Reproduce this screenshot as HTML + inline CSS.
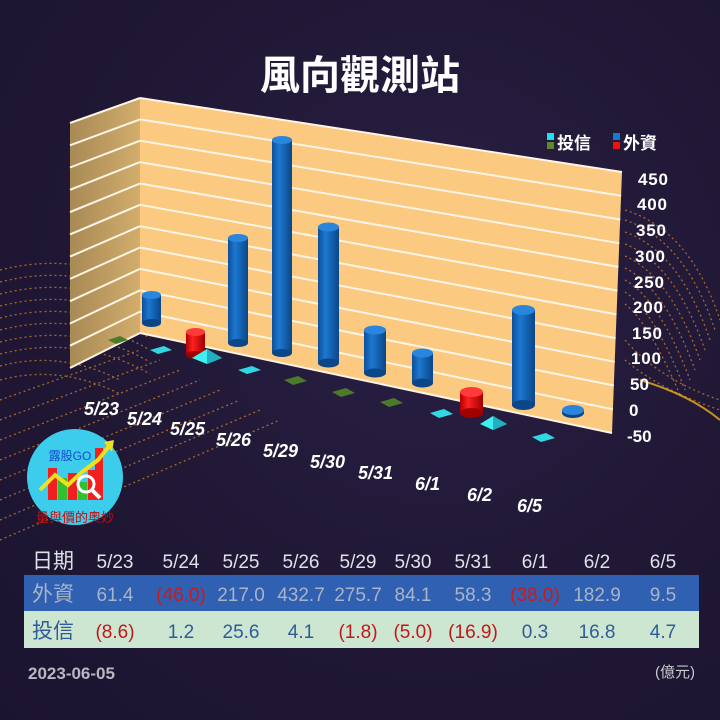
<!DOCTYPE html>
<html><head><meta charset="utf-8"><style>
html,body{margin:0;padding:0;background:#1f1733;}
#c{position:relative;width:720px;height:720px;overflow:hidden;background:radial-gradient(ellipse at 60% 40%,#2a1f45 0%,#1f1733 60%,#1b1430 100%);font-family:"Liberation Sans","Noto Sans CJK TC",sans-serif;}
svg{position:absolute;left:0;top:0}
</style></head><body><div id="c">
<svg width="720" height="720" viewBox="0 0 720 720" font-family="Liberation Sans, Noto Sans CJK TC, sans-serif">
<defs>
<linearGradient id="cb" x1="0" x2="1" y1="0" y2="0"><stop offset="0" stop-color="#0d4f9a"/><stop offset="0.35" stop-color="#1c78d0"/><stop offset="1" stop-color="#0b4688"/></linearGradient>
<linearGradient id="cr" x1="0" x2="1" y1="0" y2="0"><stop offset="0" stop-color="#b00000"/><stop offset="0.35" stop-color="#ff2020"/><stop offset="1" stop-color="#a00000"/></linearGradient>
<linearGradient id="sw" x1="0" x2="1" y1="0" y2="0"><stop offset="0" stop-color="#a88a55"/><stop offset="1" stop-color="#d2ad6c"/></linearGradient>
</defs>
<g fill="none" stroke="#c87a2a" stroke-width="1.3" stroke-dasharray="2 3" opacity="0.8">
<path d="M0 270 Q80 250 150 290"/><path d="M0 282 Q80 262 150 302"/><path d="M0 294 Q80 274 150 314"/><path d="M0 306 Q80 286 150 326"/><path d="M0 318 Q80 298 150 338"/><path d="M0 330 Q80 310 150 350"/><path d="M0 342 Q80 322 150 362"/><path d="M0 354 Q80 334 150 374"/><path d="M0 366 Q60 350 120 380"/><path d="M0 380 Q60 364 120 394"/>
<path d="M0 420 L160 360"/><path d="M0 440 L180 370"/><path d="M0 460 L200 380"/><path d="M0 480 L220 390"/><path d="M0 500 L240 400"/><path d="M0 520 L260 410"/><path d="M0 540 L280 420"/><path d="M0 400 L140 350"/>
<path d="M625 210 Q690 230 720 320"/><path d="M625 220 Q685 240 715 330"/><path d="M625 232 Q680 252 710 340"/><path d="M625 244 Q675 264 705 350"/><path d="M625 256 Q670 276 700 360"/><path d="M625 268 Q665 288 695 370"/><path d="M625 280 Q660 300 690 380"/><path d="M625 292 Q655 312 685 390"/><path d="M625 304 Q650 324 680 395"/><path d="M625 340 Q660 380 720 400"/><path d="M625 360 Q660 390 720 410"/>
</g>
<path d="M640 380 Q690 395 720 420" stroke="#e8b020" stroke-width="2" fill="none" opacity="0.8"/>
<text x="360" y="89" text-anchor="middle" font-size="40" font-weight="bold" fill="#ffffff">風向觀測站</text>
<polygon points="70,123 140,98 140,333 70,368" fill="url(#sw)"/>
<polygon points="140,98 622,172 612,433 140,333" fill="#fbc97f"/>
<g stroke="#fff5e6" stroke-width="2">
<line x1="140" y1="119.4" x2="621.1" y2="195.7"/><line x1="140" y1="140.7" x2="620.2" y2="219.5"/><line x1="140" y1="162.1" x2="619.3" y2="243.2"/><line x1="140" y1="183.5" x2="618.4" y2="266.9"/><line x1="140" y1="204.8" x2="617.5" y2="290.6"/><line x1="140" y1="226.2" x2="616.5" y2="314.4"/><line x1="140" y1="247.5" x2="615.6" y2="338.1"/><line x1="140" y1="268.9" x2="614.7" y2="361.8"/><line x1="140" y1="290.3" x2="613.8" y2="385.5"/><line x1="140" y1="311.6" x2="612.9" y2="409.3"/>
<line x1="140" y1="333" x2="612" y2="433"/><line x1="140" y1="98" x2="622" y2="172"/>
<line x1="70" y1="145.3" x2="140" y2="119.4"/><line x1="70" y1="167.5" x2="140" y2="140.7"/><line x1="70" y1="189.8" x2="140" y2="162.1"/><line x1="70" y1="212.1" x2="140" y2="183.5"/><line x1="70" y1="234.4" x2="140" y2="204.8"/><line x1="70" y1="256.6" x2="140" y2="226.2"/><line x1="70" y1="278.9" x2="140" y2="247.5"/><line x1="70" y1="301.2" x2="140" y2="268.9"/><line x1="70" y1="323.5" x2="140" y2="290.3"/><line x1="70" y1="345.7" x2="140" y2="311.6"/><line x1="70" y1="123" x2="140" y2="98"/><line x1="70" y1="368" x2="140" y2="333"/>
</g>
<g>
<rect x="142" y="295" width="19" height="28" fill="url(#cb)"/><ellipse cx="151.5" cy="323" rx="9.5" ry="4" fill="#0b4688"/><ellipse cx="151.5" cy="295" rx="9.5" ry="4" fill="#2a86dc"/>
<rect x="186" y="332" width="19" height="23" fill="url(#cr)"/><ellipse cx="195.5" cy="355" rx="9.5" ry="4" fill="#a00000"/><ellipse cx="195.5" cy="332" rx="9.5" ry="4" fill="#ff3a3a"/>
<rect x="228" y="238" width="20" height="105" fill="url(#cb)"/><ellipse cx="238" cy="343" rx="10" ry="4" fill="#0b4688"/><ellipse cx="238" cy="238" rx="10" ry="4" fill="#2a86dc"/>
<rect x="272" y="140" width="20" height="213" fill="url(#cb)"/><ellipse cx="282" cy="353" rx="10" ry="4" fill="#0b4688"/><ellipse cx="282" cy="140" rx="10" ry="4" fill="#2a86dc"/>
<rect x="318" y="227" width="21" height="136" fill="url(#cb)"/><ellipse cx="328.5" cy="363" rx="10.5" ry="4.5" fill="#0b4688"/><ellipse cx="328.5" cy="227" rx="10.5" ry="4.5" fill="#2a86dc"/>
<rect x="364" y="330" width="22" height="43" fill="url(#cb)"/><ellipse cx="375" cy="373" rx="11" ry="4.5" fill="#0b4688"/><ellipse cx="375" cy="330" rx="11" ry="4.5" fill="#2a86dc"/>
<rect x="412" y="353" width="21" height="30" fill="url(#cb)"/><ellipse cx="422.5" cy="383" rx="10.5" ry="4.5" fill="#0b4688"/><ellipse cx="422.5" cy="353" rx="10.5" ry="4.5" fill="#2a86dc"/>
<rect x="460" y="392" width="23" height="21" fill="url(#cr)"/><ellipse cx="471.5" cy="413" rx="11.5" ry="5" fill="#a00000"/><ellipse cx="471.5" cy="392" rx="11.5" ry="5" fill="#ff3a3a"/>
<rect x="512" y="310" width="23" height="95" fill="url(#cb)"/><ellipse cx="523.5" cy="405" rx="11.5" ry="5" fill="#0b4688"/><ellipse cx="523.5" cy="310" rx="11.5" ry="5" fill="#2a86dc"/>
<rect x="562" y="410" width="22" height="3" fill="url(#cb)"/><ellipse cx="573" cy="413" rx="11" ry="5" fill="#0b4688"/><ellipse cx="573" cy="410" rx="11" ry="5" fill="#2a86dc"/>
</g>
<g>
<polygon points="108,340 120,336 128,340 116,344" fill="#4a7a2a"/>
<polygon points="150,350 164,346 172,350 158,354" fill="#30d8e0"/>
<polygon points="192,358 207,349 222,358 207,364" fill="#40f0f0"/><polygon points="207,349 222,358 207,364" fill="#20b0c0"/>
<polygon points="238,370 252,366 261,370 247,374" fill="#30d8e0"/>
<polygon points="284,380 298,376 307,381 293,385" fill="#4a7a2a"/>
<polygon points="332,392 346,388 355,393 341,397" fill="#4a7a2a"/>
<polygon points="380,402 394,398 403,403 389,407" fill="#4a7a2a"/>
<polygon points="430,413 444,409 453,414 439,418" fill="#30d8e0"/>
<polygon points="480,424 493,416 507,424 493,430" fill="#40f0f0"/><polygon points="493,416 507,424 493,430" fill="#20b0c0"/>
<polygon points="532,437 546,433 555,438 541,442" fill="#30d8e0"/>
</g>
<rect x="547" y="133" width="7" height="7" fill="#20e0f0"/><rect x="547" y="142" width="7" height="7" fill="#5a8a2a"/>
<text x="557" y="149" font-size="17" font-weight="bold" fill="#fff">投信</text>
<rect x="613" y="133" width="7" height="7" fill="#1a78d0"/><rect x="613" y="142" width="7" height="7" fill="#f01010"/>
<text x="623" y="149" font-size="17" font-weight="bold" fill="#fff">外資</text>
<g font-size="17" font-weight="bold" fill="#ffffff">
<text x="638" y="185" textLength="30">450</text><text x="637" y="210" textLength="30">400</text><text x="636" y="236" textLength="30">350</text><text x="635" y="262" textLength="30">300</text><text x="634" y="288" textLength="30">250</text><text x="633" y="313" textLength="30">200</text><text x="632" y="339" textLength="30">150</text><text x="631" y="364" textLength="30">100</text><text x="630" y="390">50</text><text x="629" y="416">0</text><text x="627" y="442">-50</text>
</g>
<g font-size="18" font-weight="bold" font-style="italic" fill="#ffffff">
<text x="84" y="415">5/23</text><text x="127" y="425">5/24</text><text x="170" y="435">5/25</text><text x="216" y="446">5/26</text><text x="263" y="457">5/29</text><text x="310" y="468">5/30</text><text x="358" y="479">5/31</text><text x="415" y="490">6/1</text><text x="467" y="501">6/2</text><text x="517" y="512">6/5</text>
</g>
<circle cx="75" cy="477" r="48" fill="#3cccec"/>
<text x="70" y="460" text-anchor="middle" font-size="12" fill="#1a4ad0">露股GO</text>
<rect x="48" y="468" width="9" height="32" fill="#f02020"/><rect x="58" y="478" width="9" height="22" fill="#30c030"/><rect x="68" y="473" width="9" height="27" fill="#f02020"/><rect x="78" y="482" width="9" height="18" fill="#30c030"/><rect x="88" y="470" width="9" height="30" fill="#f02020"/><rect x="95" y="448" width="8" height="52" fill="#f02020"/>
<polyline points="40,490 55,475 68,485 82,472 98,460 110,445" fill="none" stroke="#f0e020" stroke-width="4"/>
<polygon points="104,442 114,440 112,452" fill="#f0e020"/>
<circle cx="86" cy="484" r="8" fill="none" stroke="#fff" stroke-width="3"/><line x1="92" y1="490" x2="100" y2="498" stroke="#fff" stroke-width="4"/>
<text x="75" y="522" text-anchor="middle" font-size="13" fill="#c01010">量與價的奧妙</text>
<g font-size="19" fill="#e0e0e8" text-anchor="middle">
<text x="53" y="568" font-size="21">日期</text>
<text x="115" y="568">5/23</text><text x="181" y="568">5/24</text><text x="241" y="568">5/25</text><text x="301" y="568">5/26</text><text x="358" y="568">5/29</text><text x="413" y="568">5/30</text><text x="473" y="568">5/31</text><text x="535" y="568">6/1</text><text x="597" y="568">6/2</text><text x="663" y="568">6/5</text>
</g>
<rect x="24" y="575" width="675" height="36" fill="#2f60b2"/>
<rect x="24" y="611" width="675" height="37" fill="#cde6d2"/>
<g font-size="19" fill="#a8b4c8" text-anchor="middle">
<text x="53" y="601" font-size="21">外資</text>
<text x="115" y="601">61.4</text><text x="181" y="601" fill="#d01818">(46.0)</text><text x="241" y="601">217.0</text><text x="301" y="601">432.7</text><text x="358" y="601">275.7</text><text x="413" y="601">84.1</text><text x="473" y="601">58.3</text><text x="535" y="601" fill="#d01818">(38.0)</text><text x="597" y="601">182.9</text><text x="663" y="601">9.5</text>
</g>
<g font-size="19" fill="#2f5c98" text-anchor="middle">
<text x="53" y="638" font-size="21">投信</text>
<text x="115" y="638" fill="#c01818">(8.6)</text><text x="181" y="638">1.2</text><text x="241" y="638">25.6</text><text x="301" y="638">4.1</text><text x="358" y="638" fill="#c01818">(1.8)</text><text x="413" y="638" fill="#c01818">(5.0)</text><text x="473" y="638" fill="#c01818">(16.9)</text><text x="535" y="638">0.3</text><text x="597" y="638">16.8</text><text x="663" y="638">4.7</text>
</g>
<text x="28" y="679" font-size="17" font-weight="bold" fill="#b8b8c0">2023-06-05</text>
<text x="695" y="677" font-size="15" fill="#c8c8d0" text-anchor="end">(億元)</text>
</svg>
</div></body></html>
